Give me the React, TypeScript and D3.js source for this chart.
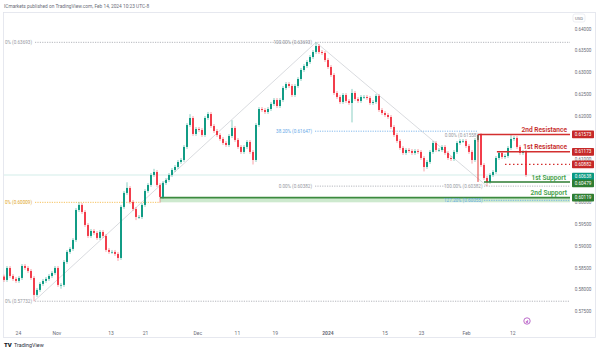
import React from "react";
import * as d3 from "d3";

// closes, roughly one per half trading day
const closes = [
  0.58222, 0.58498, 0.58314, 0.58245, 0.58199, 0.58268, 0.58544, 0.58498, 0.58429, 0.58268,
  0.57877, 0.57992, 0.5813, 0.58199, 0.58245, 0.58314, 0.58383, 0.58498, 0.58107, 0.58107,
  0.58636, 0.58867, 0.58936, 0.59143, 0.59833, 0.59949, 0.59787, 0.59488, 0.59235, 0.5935,
  0.59304, 0.59189, 0.59327, 0.59235, 0.58913, 0.58867, 0.58867, 0.58821, 0.58728, 0.59903,
  0.60225, 0.6034, 0.60018, 0.59856, 0.59672, 0.59672, 0.59949, 0.60271, 0.60409, 0.60639,
  0.60708, 0.60409, 0.60133, 0.60455, 0.60524, 0.60639, 0.60754, 0.60823, 0.60938, 0.60984,
  0.61284, 0.6179, 0.61951, 0.61583, 0.61698, 0.61675, 0.6156, 0.61951, 0.62043, 0.61767,
  0.61652, 0.6156, 0.61468, 0.61376, 0.6133, 0.61537, 0.61721, 0.61445, 0.61284, 0.61169,
  0.61284, 0.61399, 0.61169, 0.60984, 0.6179, 0.62158, 0.62135, 0.62089, 0.62158, 0.62274,
  0.62366, 0.62227, 0.62366, 0.62642, 0.62734, 0.62688, 0.62481, 0.62688, 0.62849, 0.63056,
  0.63148, 0.6324, 0.63355, 0.63471, 0.63609, 0.63471, 0.63448, 0.63286, 0.63125, 0.62941,
  0.62527, 0.62435, 0.6232, 0.62481, 0.62343, 0.62297, 0.62527, 0.62389, 0.62343, 0.62435,
  0.62435, 0.62412, 0.62297, 0.6232, 0.62458, 0.62135, 0.62066, 0.6202, 0.61974, 0.61744,
  0.6156, 0.61422, 0.61261, 0.61146, 0.61215, 0.61192, 0.61146, 0.61192, 0.61169, 0.6103,
  0.60823, 0.60938, 0.61169, 0.61376, 0.61215, 0.61215, 0.61284, 0.61146, 0.6103, 0.61007,
  0.61169, 0.61376, 0.61422, 0.61422, 0.61307, 0.61169, 0.60984, 0.61445, 0.6156, 0.60869,
  0.6057, 0.60478, 0.60639, 0.60708, 0.6103, 0.61146, 0.61054, 0.61077, 0.61261, 0.61468,
  0.61491, 0.61284, 0.61146, 0.61169, 0.60638,
];
const firstOpen = 0.583;

// wick extremes that stand out in the picture
const highs: Record<number, number> = {
  25: 0.6001, 41: 0.6047, 50: 0.6078, 62: 0.6204, 68: 0.6209, 76: 0.619,
  104: 0.63693, 116: 0.6262, 158: 0.61558, 169: 0.6158,
};
const lows: Record<number, number> = {
  10: 0.57732, 19: 0.5802, 38: 0.5866, 44: 0.596, 52: 0.6, 83: 0.6088,
  116: 0.6185, 140: 0.6072, 156: 0.609, 161: 0.60382,
};
const WICK = 0.00045;

const priceTicks = [0.64, 0.635, 0.63, 0.625, 0.62, 0.615, 0.61, 0.605, 0.6, 0.595, 0.59, 0.585, 0.58, 0.575];
const timeLabels = ["24", "Nov", "13", "21", "Dec", "11", "19", "2024", "15", "23", "Feb", "12"];
const timeAt = [4.8, 17.6, 35.7, 47.2, 64.6, 77.8, 90.4, 108, 127, 139.2, 154.2, 169.6];

// levels drawn on the chart
const swingHigh = 0.63693;
const swingLow = 0.57732;
const orangeLevel = 0.60009;
const fib382 = 0.61647;
const fibLow = 0.60382;
const fib2Top = 0.61558;
const fib1272 = 0.60055;
const res2 = 0.61573;
const res1 = 0.61173;
const midRes = 0.60882;
const sup1 = 0.60479;
const sup2 = 0.60119;
const lastPrice = 0.60638;

const FONT = "Roboto, 'Liberation Sans', sans-serif";

export default function App() {
  const plotL = 4;
  const plotR = 570;
  const x = d3.scaleLinear().domain([0, closes.length - 1]).range([4, 526]);
  const y = d3.scaleLinear().domain([0.575, 0.64]).range([311.3, 29]);
  const fmt = d3.format(".5f");

  const candles = closes.map((c, i) => {
    const o = i === 0 ? firstOpen : closes[i - 1];
    const h = highs[i] ?? Math.max(o, c) + WICK;
    const l = lows[i] ?? Math.min(o, c) - WICK;
    return { i, o, c, h, l };
  });

  const axisLabels = [
    { v: res2, fill: "#c62828", dy: 0 },
    { v: res1, fill: "#c62828", dy: 0 },
    { v: midRes, fill: "#c62828", dy: 0 },
    { v: lastPrice, fill: "#089981", dy: 1.6 },
    { v: sup1, fill: "#2e7d32", dy: 1.4 },
    { v: sup2, fill: "#2e7d32", dy: 0 },
  ];
  const shownTicks = priceTicks.filter(
    (t) => !axisLabels.some((a) => Math.abs(y(a.v) + a.dy - y(t)) < 4.5)
  );

  const small = { fontFamily: FONT, fontSize: 4.6 };
  const grey = "#9598a1";
  const dotted = "1.2,1.2";

  return (
    <svg
      width={600}
      height={353}
      style={{ position: "absolute", left: 0, top: 0, background: "#fff" }}
    >
      <text x={4} y={7.6} fill="#6a6d78" {...small} fontSize={4.8}>
        ICmarkets published on TradingView.com, Feb 14, 2024 10:23 UTC-8
      </text>
      <rect x={3.5} y={12.5} width={592} height={325} fill="none" stroke="#e0e3eb" strokeWidth={0.8} />

      {/* current price line */}
      <line x1={plotL} x2={plotR} y1={y(lastPrice)} y2={y(lastPrice)} stroke="#089981" strokeOpacity={0.25} strokeWidth={0.7} />

      {/* 2nd support zone */}
      <rect x={x(52)} y={y(sup2)} width={plotR - x(52)} height={y(orangeLevel) - y(sup2)} fill="#4caf50" fillOpacity={0.28} />
      <line x1={x(52)} x2={plotR} y1={y(sup2)} y2={y(sup2)} stroke="#3c8a3e" strokeWidth={1.8} />

      {/* left anchored levels */}
      <text x={plotL + 1} y={y(swingHigh) + 1.6} fill={grey} {...small}>0% ({fmt(swingHigh)})</text>
      <line x1={35} x2={x(102.3)} y1={y(swingHigh)} y2={y(swingHigh)} stroke={grey} strokeWidth={0.7} strokeDasharray={dotted} />
      <line x1={x(104) - 1} x2={plotR} y1={y(swingHigh)} y2={y(swingHigh)} stroke={grey} strokeWidth={0.7} strokeDasharray={dotted} />
      <text x={plotL + 1} y={y(orangeLevel) + 1.6} fill="#e0a526" {...small}>0% ({fmt(orangeLevel)})</text>
      <line x1={35} x2={x(52)} y1={y(orangeLevel)} y2={y(orangeLevel)} stroke="#f2b134" strokeWidth={0.8} strokeDasharray={dotted} />
      <text x={plotL + 1} y={y(swingLow) + 1.6} fill={grey} {...small}>0% ({fmt(swingLow)})</text>
      <line x1={35} x2={plotR} y1={y(swingLow)} y2={y(swingLow)} stroke={grey} strokeWidth={0.7} strokeDasharray={dotted} />

      {/* trend legs */}
      <line x1={x(10)} y1={y(swingLow)} x2={x(104)} y2={y(swingHigh)} stroke="#c9cbd1" strokeWidth={0.7} />
      <line x1={x(104)} y1={y(swingHigh)} x2={x(161)} y2={y(fibLow)} stroke="#c9cbd1" strokeWidth={0.7} />

      {/* fib 1 */}
      <text x={x(104) - 4} y={y(swingHigh) + 1.6} textAnchor="end" fill={grey} {...small}>100.00% ({fmt(swingHigh)})</text>
      <text x={x(104) - 4} y={y(fib382) + 1.6} textAnchor="end" fill="#64a8e8" {...small}>38.20% ({fmt(fib382)})</text>
      <line x1={x(104) - 1} x2={x(158)} y1={y(fib382)} y2={y(fib382)} stroke="#64a8e8" strokeWidth={0.8} strokeDasharray={dotted} />
      <text x={x(104) - 4} y={y(fibLow) + 1.6} textAnchor="end" fill={grey} {...small}>0.00% ({fmt(fibLow)})</text>
      <line x1={x(104) - 1} x2={x(147)} y1={y(fibLow)} y2={y(fibLow)} stroke={grey} strokeWidth={0.7} strokeDasharray={dotted} />

      {/* fib 2 */}
      <text x={x(158)} y={y(fib2Top) + 1.6} textAnchor="end" fill={grey} {...small}>0.00% ({fmt(fib2Top)})</text>
      <text x={x(160) - 1.5} y={y(fibLow) + 1.6} textAnchor="end" fill={grey} {...small}>100.00% ({fmt(fibLow)})</text>
      <line x1={x(160)} x2={plotR} y1={y(fibLow)} y2={y(fibLow)} stroke={grey} strokeWidth={0.7} strokeDasharray={dotted} />
      <text x={x(160) - 1.5} y={y(fib1272) + 1.6} textAnchor="end" fill="#64a8e8" {...small}>127.20% ({fmt(fib1272)})</text>
      <line x1={x(160)} x2={plotR} y1={y(fib1272)} y2={y(fib1272)} stroke="#64a8e8" strokeWidth={0.8} strokeDasharray={dotted} />

      {/* candles */}
      {candles.map((d) => {
        const col = d.c >= d.o ? "#089981" : "#f23645";
        const top = y(Math.max(d.o, d.c));
        const hgt = Math.max(0.7, Math.abs(y(d.o) - y(d.c)));
        return (
          <g key={d.i}>
            <line x1={x(d.i)} x2={x(d.i)} y1={y(d.h)} y2={y(d.l)} stroke={col} strokeWidth={0.6} strokeOpacity={0.8} />
            <rect x={x(d.i) - 0.95} y={top} width={1.9} height={hgt} fill={col} />
          </g>
        );
      })}

      {/* resistance / support */}
      <line x1={x(158)} x2={plotR} y1={y(res2)} y2={y(res2)} stroke="#d32f2f" strokeWidth={1.5} />
      <line x1={x(158)} x2={x(158)} y1={y(res2)} y2={y(sup1)} stroke="#e53935" strokeWidth={1} />
      <line x1={x(164.3)} x2={plotR} y1={y(res1)} y2={y(res1)} stroke="#d32f2f" strokeWidth={1.5} />
      <line x1={x(167)} x2={plotR} y1={y(midRes)} y2={y(midRes)} stroke="#d32f2f" strokeWidth={1.3} strokeDasharray="1.5,2.5" />
      <line x1={x(160)} x2={plotR} y1={y(sup1)} y2={y(sup1)} stroke="#2e7d32" strokeWidth={1.5} />

      <g fontFamily={FONT} fontSize={6.6} fontWeight={600} textAnchor="end">
        <text x={567} y={y(res2) - 2.6} fill="#c62828">2nd Resistance</text>
        <text x={567} y={y(res1) - 2.6} fill="#c62828">1st Resistance</text>
        <text x={566} y={y(sup1) - 2.4} fill="#43a047">1st Support</text>
        <text x={567} y={y(orangeLevel) - 7.6} fill="#43a047">2nd Support</text>
      </g>

      {/* price axis */}
      <rect x={573} y={14} width={12} height={8} rx={2} fill="#fff" stroke="#e0e3eb" strokeWidth={0.6} />
      <text x={579} y={19.6} textAnchor="middle" fill="#6a6d78" {...small} fontSize={4.2}>USD</text>
      {shownTicks.map((t) => (
        <text key={t} x={583} y={y(t) + 1.7} textAnchor="middle" fill="#6a6d78" {...small}>
          {fmt(t)}
        </text>
      ))}
      {axisLabels.map((a) => (
        <g key={a.v}>
          <rect x={572} y={y(a.v) + a.dy - 3.9} width={22} height={7.8} rx={0.8} fill={a.fill} />
          <text x={583} y={y(a.v) + a.dy + 1.7} textAnchor="middle" fill="#fff" {...small}>
            {fmt(a.v)}
          </text>
        </g>
      ))}

      {/* time axis */}
      {timeLabels.map((t, k) => (
        <text
          key={t + k}
          x={x(timeAt[k])}
          y={334.6}
          textAnchor="middle"
          fill="#6a6d78"
          fontFamily={FONT}
          fontSize={5}
          fontWeight={t === "2024" ? 700 : 400}
        >
          {t}
        </text>
      ))}

      {/* event marker */}
      <circle cx={527} cy={321} r={3.2} fill="#fff" stroke="#ab47bc" strokeWidth={0.8} />
      <text x={527} y={322.6} textAnchor="middle" fill="#ab47bc" fontFamily={FONT} fontSize={4.2} fontWeight={700}>d</text>

      {/* branding */}
      <text x={4} y={347.4} fill="#131722" fontFamily={FONT} fontSize={6} fontWeight={900}>TV</text>
      <text x={14} y={347.4} fill="#2a2e39" fontFamily={FONT} fontSize={5.4}>TradingView</text>
    </svg>
  );
}
